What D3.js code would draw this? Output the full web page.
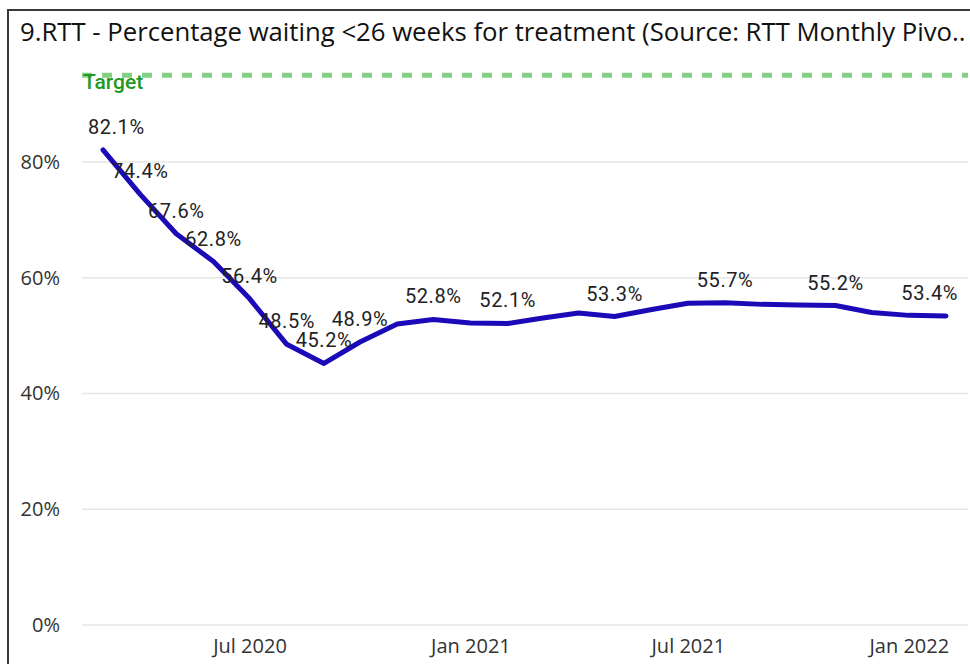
<!DOCTYPE html>
<html><head><meta charset="utf-8">
<script src="https://cdn.jsdelivr.net/npm/d3@7"></script>
<style>body{margin:0;background:#fff;} svg{display:block}</style>
</head><body>
<svg id="c" width="970" height="664"></svg>
<script>
// ---- data ----
const months = ["2020-03","2020-04","2020-05","2020-06","2020-07","2020-08","2020-09","2020-10","2020-11","2020-12",
  "2021-01","2021-02","2021-03","2021-04","2021-05","2021-06","2021-07","2021-08","2021-09","2021-10","2021-11","2021-12",
  "2022-01","2022-02"];
const values = [82.1,74.4,67.6,62.8,56.4,48.5,45.2,48.9,52.0,52.8,
  52.2,52.1,53.0,53.9,53.3,54.5,55.6,55.7,55.4,55.3,55.2,54.0,
  53.5,53.4];
const labelledMonths = ["2020-03","2020-04","2020-05","2020-06","2020-07","2020-08","2020-09","2020-10","2020-12",
  "2021-02","2021-05","2021-08","2021-11","2022-02"];
const yTicks = [0,20,40,60,80];
const xTicks = ["2020-07","2021-01","2021-07","2022-01"];
const target = 95;
const targetLabel = "Target";
const title = "9.RTT - Percentage waiting <26 weeks for treatment (Source: RTT Monthly Pivo..";

// ---- chart ----
const svg = d3.select("#c");
const parse = d3.timeParse("%Y-%m");
const data = months.map((m,i)=>({m, d: parse(m), v: values[i]}));
const plotL = 82, plotR = 968;
const uiFont = "'Segoe UI','Open Sans','Noto Sans',sans-serif";

const x = d3.scaleTime().domain(d3.extent(data, d=>d.d)).range([103, 946]);
const y = d3.scaleLinear().domain([0, 80]).range([625, 162]);

// frame
svg.append("path").attr("d","M8,664 V10 H970").attr("fill","none").attr("stroke","#3a3a3a").attr("stroke-width",2);

// title
const t = svg.append("text").attr("x",20).attr("y",41).text(title)
  .attr("font-family",uiFont).attr("font-size",23).attr("fill","#111");
const tw = t.node().getComputedTextLength();
t.attr("font-size", 23 * 946 / tw);

// gridlines
svg.append("g").selectAll("line").data(yTicks).join("line")
  .attr("x1",plotL).attr("x2",plotR).attr("y1",d=>y(d)).attr("y2",d=>y(d))
  .attr("stroke","#e6e6e6").attr("stroke-width",1.5);

// y axis
const ya = svg.append("g").attr("transform",`translate(${plotL},0)`)
  .call(d3.axisLeft(y).tickValues(yTicks).tickSize(0).tickPadding(22).tickFormat(d=>d+"%"));
ya.select(".domain").remove();
ya.selectAll("text").attr("font-family",uiFont).attr("font-size",20).attr("fill","#333");

// x axis
const xa = svg.append("g").attr("transform",`translate(0,${y(0)})`)
  .call(d3.axisBottom(x).tickValues(xTicks.map(parse)).tickSize(0).tickPadding(14).tickFormat(d3.timeFormat("%b %Y")));
xa.select(".domain").remove();
xa.selectAll("text").attr("font-family",uiFont).attr("font-size",20).attr("fill","#333");

// target line
svg.append("line").attr("x1",plotL).attr("x2",plotR).attr("y1",y(target)).attr("y2",y(target))
  .attr("stroke","#85cf85").attr("stroke-width",5).attr("stroke-dasharray","10,10");
svg.append("text").attr("x",plotL+1).attr("y",y(target)+14).text(targetLabel)
  .attr("font-family","Roboto,sans-serif").attr("font-weight",500).attr("font-size",21).attr("fill","#1f9a1f");

// line
svg.append("path").datum(data)
  .attr("d", d3.line().x(d=>x(d.d)).y(d=>y(d.v)))
  .attr("fill","none").attr("stroke","#1a0ab8").attr("stroke-width",5).attr("stroke-linejoin","round").attr("stroke-linecap","round");

// data labels
const lab = svg.append("g").selectAll("text").data(data.filter(d=>labelledMonths.includes(d.m))).join("text")
  .attr("text-anchor","middle").attr("y",d=>y(d.v)-16)
  .attr("font-family","Roboto,sans-serif").attr("font-size",20).attr("letter-spacing","0.6px").attr("fill","#222")
  .text(d=>d.v.toFixed(1)+"%");
lab.each(function(d){
  const w = this.getComputedTextLength();
  let cx = x(d.d);
  cx = Math.max(cx, 88 + w/2);
  cx = Math.min(cx, 958 - w/2);
  d3.select(this).attr("x", cx);
});
</script>
</body></html>
